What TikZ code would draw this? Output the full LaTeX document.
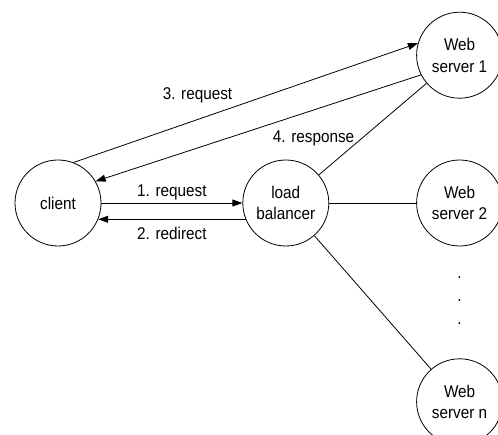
\documentclass[tikz,border=0pt]{standalone}
\usepackage{fontspec}
\setmainfont[FakeStretch=0.9]{Liberation Sans}
\usepackage{tikz}
\usetikzlibrary{positioning,arrows.meta}

\tikzset{
  host/.style={circle, draw, line width=0.8pt, minimum size=86pt, inner sep=0pt, align=center},
  msg/.style={-{Triangle[length=10pt,width=7pt]}, line width=0.8pt},
  link/.style={line width=0.8pt},
  lbl/.style={inner sep=1.5pt}
}

\begin{document}
\fontsize{17pt}{21.5pt}\selectfont
\begin{tikzpicture}[x=1pt,y=1pt]

  \useasboundingbox (0,0) rectangle (498,434);

  \node[host] at (58,231) (client) {client}; %
  \node[host, right=141pt of client] (lb) {load\\balancer}; %
  \node[host, right=87pt of lb] (ws2) {Web\\server 2}; %
  \node[host, above=61pt of ws2] (ws1) {Web\\server 1}; %
  \node[host, below=112pt of ws2] (wsn) {Web\\server n}; %

  \foreach \i/\d in {1/75, 2/98, 3/121}
    \node[below=\d pt of ws2.center, anchor=center, inner sep=0pt] (dot\i) {.};

  \draw[msg] (client) -- node[lbl, midway, above=1pt] (req1) {1. request} (lb);
  \draw[msg] (lb.202) -- node[lbl, midway, below=6pt] (redir) {2. redirect} (client.-22);
  \draw[msg] (client.69) -- node[lbl, pos=0.36, above=15pt] (req3) {3. request} (ws1.164);
  \draw[msg] (ws1.207) -- node[lbl, pos=0.33, below=19pt] (resp) {4. response} (client.30);

  \draw[link] (lb) -- (ws1);
  \draw[link] (lb) -- (ws2);
  \draw[link] (lb) -- (wsn);

\end{tikzpicture}
\end{document}
